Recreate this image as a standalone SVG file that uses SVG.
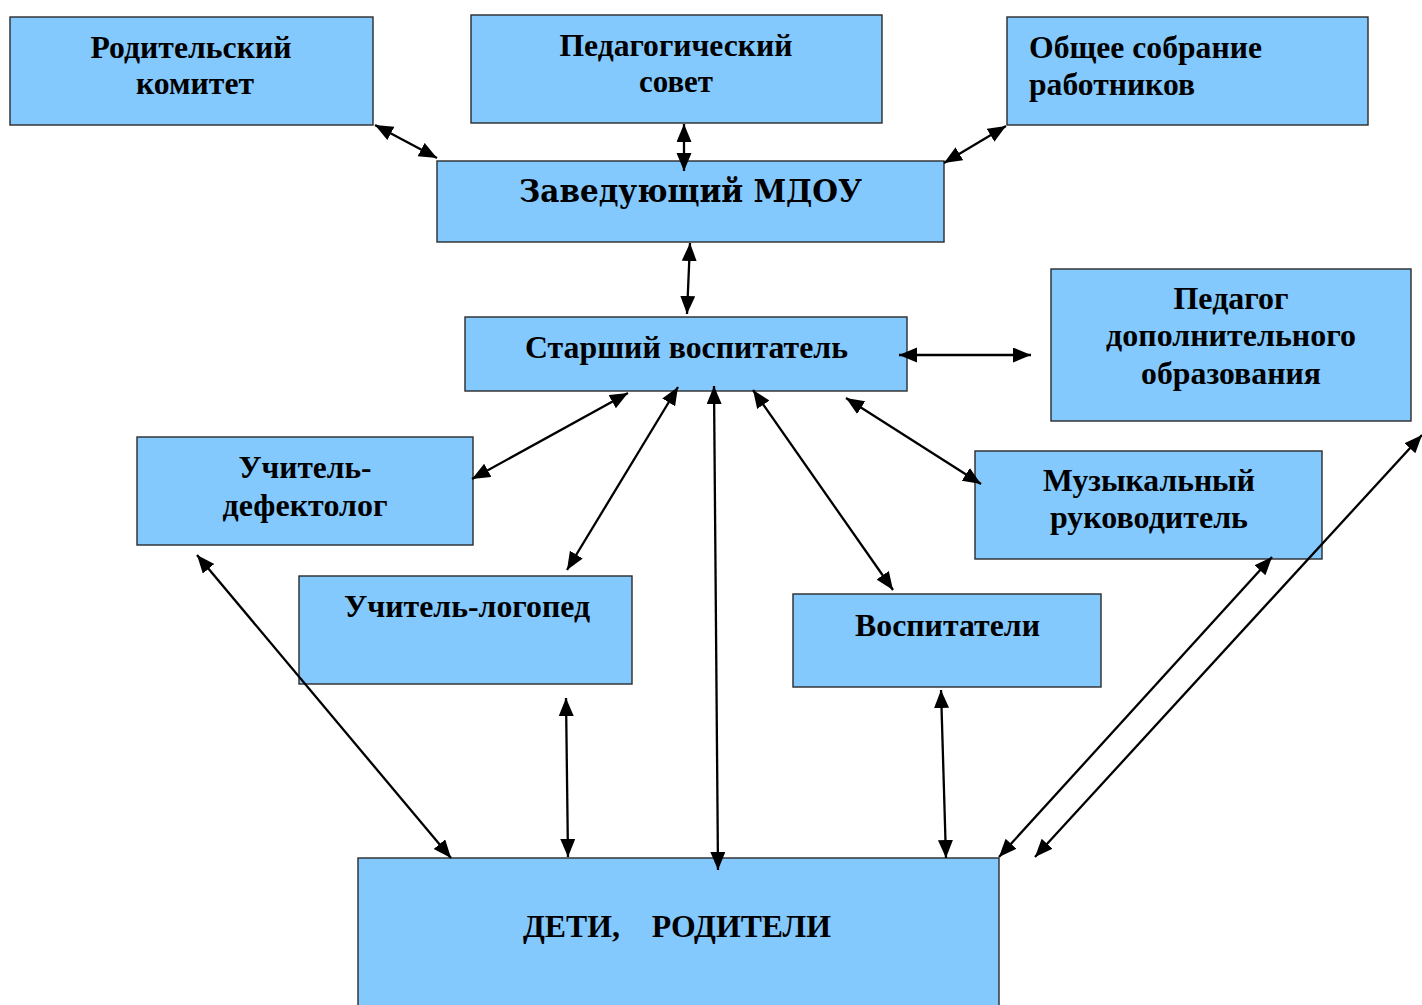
<svg xmlns="http://www.w3.org/2000/svg" width="1422" height="1005" viewBox="0 0 1422 1005">
<style>
.box{fill:#84C9FD;stroke:#2a2a2a;stroke-width:1.4}
.t{font-family:"Liberation Serif","Times New Roman",serif;font-weight:bold;font-size:31px;fill:#000}
.c{text-anchor:middle}
.z{font-family:"DejaVu Serif",serif;font-weight:bold;font-size:31px;fill:#000}
.conn line{stroke:#000;stroke-width:2.3;marker-start:url(#ah);marker-end:url(#ah)}
</style>
<defs>
<marker id="ah" markerUnits="userSpaceOnUse" markerWidth="20" markerHeight="16" refX="18" refY="7.5" orient="auto-start-reverse">
<path d="M0,0 L18,7.5 L0,15 z" fill="#000"/>
</marker>
</defs>
<rect width="1422" height="1005" fill="#fff"/>

<g id="roditelskiy-komitet">
<rect class="box" x="10" y="17" width="363" height="108"/>
<text class="t c" x="191" y="58" textLength="201" lengthAdjust="spacingAndGlyphs">Родительский</text>
<text class="t c" x="195" y="94" textLength="118" lengthAdjust="spacingAndGlyphs">комитет</text>
</g>
<g id="ped-sovet">
<rect class="box" x="471" y="15" width="411" height="108"/>
<text class="t c" x="676" y="56" textLength="233" lengthAdjust="spacingAndGlyphs">Педагогический</text>
<text class="t c" x="676" y="92" textLength="74" lengthAdjust="spacingAndGlyphs">совет</text>
</g>
<g id="obshchee-sobranie">
<rect class="box" x="1007" y="17" width="361" height="108"/>
<text class="t" x="1029" y="58" textLength="233" lengthAdjust="spacingAndGlyphs">Общее собрание</text>
<text class="t" x="1029" y="95" textLength="166" lengthAdjust="spacingAndGlyphs">работников</text>
</g>
<g id="zaveduyushchiy">
<rect class="box" x="437" y="161" width="507" height="81"/>
<text class="z" x="519" y="202" textLength="343" lengthAdjust="spacingAndGlyphs">Заведующий МДОУ</text>
</g>
<g id="starshiy-vospitatel">
<rect class="box" x="465" y="317" width="442" height="74"/>
<text class="t" x="525" y="358" textLength="323" lengthAdjust="spacingAndGlyphs">Старший воспитатель</text>
</g>
<g id="pedagog-dop">
<rect class="box" x="1051" y="269" width="360" height="152"/>
<text class="t c" x="1231" y="309" textLength="115" lengthAdjust="spacingAndGlyphs">Педагог</text>
<text class="t c" x="1231" y="346" textLength="250" lengthAdjust="spacingAndGlyphs">дополнительного</text>
<text class="t c" x="1231" y="384" textLength="180" lengthAdjust="spacingAndGlyphs">образования</text>
</g>
<g id="uchitel-defektolog">
<rect class="box" x="137" y="437" width="336" height="108"/>
<text class="t c" x="305" y="478" textLength="133" lengthAdjust="spacingAndGlyphs">Учитель-</text>
<text class="t c" x="305" y="516" textLength="165" lengthAdjust="spacingAndGlyphs">дефектолог</text>
</g>
<g id="uchitel-logoped">
<rect class="box" x="299" y="576" width="333" height="108"/>
<text class="t" x="344" y="617" textLength="246" lengthAdjust="spacingAndGlyphs">Учитель-логопед</text>
</g>
<g id="vospitateli">
<rect class="box" x="793" y="594" width="308" height="93"/>
<text class="t" x="855" y="636" textLength="185" lengthAdjust="spacingAndGlyphs">Воспитатели</text>
</g>
<g id="muz-rukovoditel">
<rect class="box" x="975" y="451" width="347" height="108"/>
<text class="t" x="1043" y="491" textLength="212" lengthAdjust="spacingAndGlyphs">Музыкальный</text>
<text class="t" x="1050" y="528" textLength="198" lengthAdjust="spacingAndGlyphs">руководитель</text>
</g>
<g id="deti-roditeli">
<rect class="box" x="358" y="858" width="641" height="160"/>
<text class="t" x="523" y="937" textLength="308" lengthAdjust="spacingAndGlyphs" xml:space="preserve">ДЕТИ,    РОДИТЕЛИ</text>
</g>

<g id="connectors" class="conn">
<line x1="375" y1="125" x2="437" y2="158"/>
<line x1="684" y1="124" x2="684" y2="171"/>
<line x1="1006" y1="126" x2="944" y2="163"/>
<line x1="690" y1="243" x2="687" y2="314"/>
<line x1="899" y1="355" x2="1031" y2="355"/>
<line x1="628" y1="393" x2="472" y2="479"/>
<line x1="678" y1="387" x2="567" y2="570"/>
<line x1="714" y1="386" x2="718" y2="870"/>
<line x1="753" y1="390" x2="893" y2="590"/>
<line x1="846" y1="398" x2="981" y2="484"/>
<line x1="197" y1="555" x2="451" y2="858"/>
<line x1="566" y1="698" x2="568" y2="857"/>
<line x1="941" y1="690" x2="946" y2="858"/>
<line x1="1272" y1="557" x2="999" y2="857"/>
<line x1="1422" y1="435" x2="1035" y2="857"/>
</g>
</svg>
